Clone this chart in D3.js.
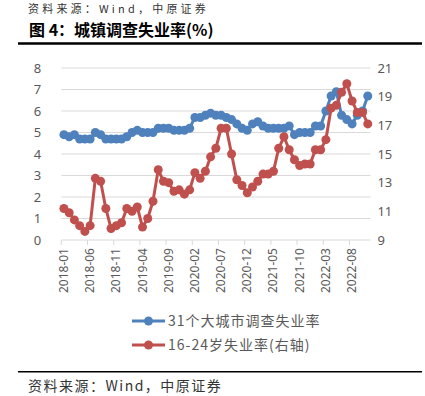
<!DOCTYPE html>
<html>
<head>
<meta charset="utf-8">
<script src="https://cdn.jsdelivr.net/npm/d3@7"></script>
<style>
  body { margin: 0; background: #fff; }
  svg { display: block; }
  text { font-family: "Noto Sans CJK SC", "Noto Sans", sans-serif; }
</style>
</head>
<body>
<svg id="chart" width="425" height="396"></svg>
<script>
// months 2018-01 .. 2022-11
const months = [
  "2018-01","2018-02","2018-03","2018-04","2018-05","2018-06","2018-07","2018-08","2018-09","2018-10","2018-11","2018-12",
  "2019-01","2019-02","2019-03","2019-04","2019-05","2019-06","2019-07","2019-08","2019-09","2019-10","2019-11","2019-12",
  "2020-01","2020-02","2020-03","2020-04","2020-05","2020-06","2020-07","2020-08","2020-09","2020-10","2020-11","2020-12",
  "2021-01","2021-02","2021-03","2021-04","2021-05","2021-06","2021-07","2021-08","2021-09","2021-10","2021-11","2021-12",
  "2022-01","2022-02","2022-03","2022-04","2022-05","2022-06","2022-07","2022-08","2022-09","2022-10","2022-11"
];

// 31个大城市调查失业率 (left axis)
const city31 = [
  4.9, 4.8, 4.9, 4.7, 4.7, 4.7, 5.0, 4.9, 4.7, 4.7, 4.7, 4.7,
  4.8, 5.0, 5.1, 5.0, 5.0, 5.0, 5.2, 5.2, 5.2, 5.1, 5.1, 5.1,
  5.2, 5.7, 5.7, 5.8, 5.9, 5.8, 5.8, 5.7, 5.6, 5.4, 5.2, 5.1,
  5.4, 5.5, 5.3, 5.2, 5.2, 5.2, 5.2, 5.3, 4.9, 5.0, 5.0, 5.0,
  5.3, 5.3, 6.0, 6.7, 6.9, 5.8, 5.6, 5.4, 5.8, 6.0, 6.7
];

// 16-24岁失业率 (right axis)
const youth = [
  11.2, 10.9, 10.4, 10.0, 9.6, 10.0, 13.3, 13.1, 11.2, 9.8, 10.0, 10.2,
  11.2, 11.0, 11.3, 9.9, 10.5, 11.7, 13.9, 13.1, 13.0, 12.4, 12.5, 12.2,
  12.5, 13.7, 13.3, 13.8, 14.8, 15.4, 16.8, 16.8, 15.0, 13.2, 12.8, 12.3,
  12.7, 13.1, 13.6, 13.6, 13.8, 15.4, 16.2, 15.3, 14.6, 14.2, 14.3, 14.3,
  15.3, 15.3, 16.0, 18.2, 18.4, 19.3, 19.9, 18.7, 17.9, 17.9, 17.1
];

const leftTicks = [0, 1, 2, 3, 4, 5, 6, 7, 8];
const rightTicks = [9, 11, 13, 15, 17, 19, 21];
const xTickLabels = ["2018-01","2018-06","2018-11","2019-04","2019-09","2020-02",
                     "2020-07","2020-12","2021-05","2021-10","2022-03","2022-08"];

const seriesNames = ["31个大城市调查失业率", "16-24岁失业率(右轴)"];
const colors = ["#4F81BD", "#C0504D"];

const svg = d3.select("#chart");
const gray = "#595959";

// header / footer
svg.append("text").attr("x", 28).attr("y", 13)
  .attr("font-size", 11).attr("letter-spacing", 3.2).attr("fill", "#333")
  .text("资料来源：Wind，中原证券");

svg.append("text").attr("x", 29).attr("y", 36)
  .attr("font-size", 16).attr("font-weight", "bold").attr("fill", "#000")
  .text("图 4：城镇调查失业率(%)");

svg.append("line").attr("x1", 18).attr("x2", 422).attr("y1", 43.5).attr("y2", 43.5)
  .attr("stroke", "#000").attr("stroke-width", 2.5);

svg.append("line").attr("x1", 18).attr("x2", 422).attr("y1", 371.7).attr("y2", 371.7)
  .attr("stroke", "#000").attr("stroke-width", 1.6);

svg.append("text").attr("x", 28).attr("y", 391)
  .attr("font-size", 14).attr("letter-spacing", 1.5).attr("fill", "#333")
  .text("资料来源：Wind，中原证券");

// scales
const x = d3.scaleBand().domain(months).range([61.3, 370.4]).padding(0);
const cx = d => x(d) + x.bandwidth() / 2;
const yL = d3.scaleLinear().domain([0, 8]).range([240, 68]);
const yR = d3.scaleLinear().domain([9, 21]).range([240, 68]);

// gridlines
svg.append("g").selectAll("line")
  .data(leftTicks.slice(1))
  .join("line")
  .attr("x1", 61.3).attr("x2", 370.4)
  .attr("y1", d => yL(d)).attr("y2", d => yL(d))
  .attr("stroke", "#d9d9d9").attr("stroke-width", 1);

// left axis
const gl = svg.append("g").attr("transform", "translate(61.3,0)")
  .call(d3.axisLeft(yL).tickValues(leftTicks).tickSize(0).tickPadding(20));
gl.select(".domain").remove();
gl.selectAll("text").attr("font-size", 13).attr("fill", gray)
  .style("font-family", "'Noto Sans', sans-serif");

// right axis
const gr = svg.append("g").attr("transform", "translate(370.4,0)")
  .call(d3.axisRight(yR).tickValues(rightTicks).tickSize(0).tickPadding(7));
gr.select(".domain").remove();
gr.selectAll("text").attr("font-size", 13).attr("fill", gray)
  .style("font-family", "'Noto Sans', sans-serif");

// bottom axis
svg.append("line").attr("x1", 61.3).attr("x2", 370.4).attr("y1", 240).attr("y2", 240)
  .attr("stroke", "#d9d9d9").attr("stroke-width", 1);

const tickIdx = d3.range(0, months.length, 5);
svg.append("g").selectAll("line")
  .data(tickIdx)
  .join("line")
  .attr("x1", i => x(months[i])).attr("x2", i => x(months[i]))
  .attr("y1", 240).attr("y2", 245)
  .attr("stroke", "#d9d9d9");

svg.append("g").selectAll("text")
  .data(xTickLabels)
  .join("text")
  .attr("transform", d => `translate(${cx(d) + 4},248) rotate(-90)`)
  .attr("text-anchor", "end")
  .attr("font-size", 12)
  .attr("fill", gray)
  .style("font-family", "'Noto Sans', sans-serif")
  .text(d => d);

// lines
function drawSeries(values, yScale, color) {
  const pts = months.map((m, i) => [cx(m), yScale(values[i])]);
  svg.append("path")
    .attr("d", d3.line()(pts))
    .attr("fill", "none")
    .attr("stroke", color)
    .attr("stroke-width", 3)
    .attr("stroke-linejoin", "round");
  svg.append("g").selectAll("circle")
    .data(pts)
    .join("circle")
    .attr("cx", d => d[0]).attr("cy", d => d[1])
    .attr("r", 4.5)
    .attr("fill", color);
}
drawSeries(city31, yL, colors[0]);
drawSeries(youth, yR, colors[1]);

// legend
const legend = svg.append("g");
[321, 345].forEach((ly, k) => {
  legend.append("line").attr("x1", 132).attr("x2", 165).attr("y1", ly).attr("y2", ly)
    .attr("stroke", colors[k]).attr("stroke-width", 3);
  legend.append("circle").attr("cx", 148.5).attr("cy", ly).attr("r", 4.5).attr("fill", colors[k]);
  legend.append("text").attr("x", 168).attr("y", ly + 5)
    .attr("font-size", 14).attr("letter-spacing", 1).attr("fill", gray)
    .text(seriesNames[k]);
});
</script>
</body>
</html>
